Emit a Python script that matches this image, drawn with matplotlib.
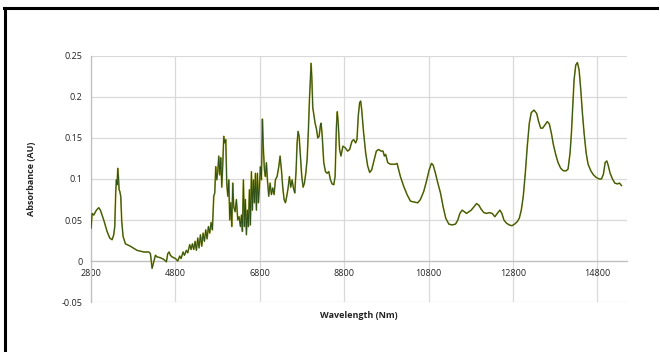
import matplotlib
matplotlib.use('Agg')
import matplotlib.pyplot as plt
from matplotlib.lines import Line2D
from matplotlib.ticker import FuncFormatter

# Spectrum (wavelength, absorbance)
wavelength = [
    2800, 2824, 2863, 2926, 2982, 3021, 3100, 3179, 3242, 3298, 3337, 3361, 3385, 3400,
    3416, 3432, 3448, 3464, 3480, 3503, 3527, 3558, 3614, 3732, 3890, 4048, 4167, 4206,
    4246, 4285, 4325, 4364, 4443, 4522, 4585, 4617, 4649, 4680, 4720, 4799, 4854, 4901,
    4933, 4980, 5012, 5059, 5091, 5138, 5170, 5201, 5233, 5265, 5296, 5328, 5359, 5391,
    5423, 5454, 5486, 5517, 5549, 5580, 5612, 5644, 5675, 5707, 5731, 5754, 5778, 5802,
    5826, 5849, 5873, 5897, 5920, 5944, 5968, 5992, 6015, 6039, 6063, 6086, 6110, 6134,
    6157, 6181, 6213, 6244, 6276, 6307, 6339, 6363, 6386, 6410, 6434, 6457, 6481, 6505,
    6528, 6552, 6576, 6600, 6623, 6647, 6671, 6694, 6718, 6742, 6765, 6789, 6813, 6837,
    6860, 6884, 6908, 6931, 6955, 6979, 7010, 7042, 7074, 7105, 7137, 7168, 7208, 7248,
    7279, 7311, 7342, 7374, 7406, 7437, 7469, 7500, 7532, 7564, 7595, 7627, 7659, 7682,
    7706, 7730, 7761, 7793, 7825, 7856, 7888, 7920, 7951, 7975, 7999, 8014, 8030, 8054,
    8078, 8109, 8141, 8172, 8204, 8236, 8251, 8275, 8314, 8354, 8393, 8433, 8472, 8512,
    8551, 8583, 8614, 8634, 8657, 8689, 8721, 8768, 8824, 8879, 8927, 8982, 9022, 9069,
    9101, 9132, 9164, 9188, 9212, 9259, 9307, 9354, 9402, 9449, 9497, 9560, 9615, 9671,
    9718, 9750, 9781, 9829, 9892, 9956, 10011, 10051, 10090, 10130, 10209, 10288, 10367,
    10446, 10541, 10605, 10684, 10747, 10811, 10866, 10906, 10961, 11017, 11080, 11143,
    11206, 11278, 11357, 11436, 11491, 11539, 11594, 11649, 11697, 11752, 11808, 11871,
    11934, 11990, 12045, 12108, 12172, 12235, 12306, 12369, 12425, 12488, 12535, 12583,
    12646, 12710, 12773, 12836, 12899, 12947, 12995, 13042, 13090, 13137, 13185, 13232,
    13296, 13359, 13406, 13454, 13501, 13557, 13612, 13660, 13707, 13755, 13810, 13866,
    13929, 13993, 14056, 14103, 14151, 14183, 14214, 14246, 14286, 14325, 14365, 14404,
    14444, 14483, 14531, 14578, 14642, 14705, 14768, 14839, 14895, 14942, 14982, 15021,
    15053, 15100, 15156, 15211, 15274, 15322, 15369,
]
absorbance = [
    0.040, 0.058, 0.056, 0.062, 0.065, 0.062, 0.050, 0.036, 0.028, 0.026, 0.032, 0.042, 0.085, 0.099,
    0.093, 0.113, 0.103, 0.087, 0.085, 0.079, 0.048, 0.030, 0.021, 0.018, 0.013, 0.011, 0.011, 0.009,
    -0.009, -0.001, 0.007, 0.005, 0.004, 0.002, -0.001, 0.009, 0.011, 0.007, 0.005, 0.003, 0.000, 0.006,
    0.003, 0.011, 0.007, 0.013, 0.010, 0.020, 0.014, 0.021, 0.014, 0.024, 0.013, 0.028, 0.016, 0.032,
    0.018, 0.034, 0.024, 0.038, 0.027, 0.042, 0.034, 0.047, 0.038, 0.079, 0.083, 0.115, 0.099, 0.109,
    0.128, 0.105, 0.126, 0.090, 0.117, 0.152, 0.144, 0.148, 0.095, 0.079, 0.099, 0.050, 0.071, 0.042,
    0.095, 0.066, 0.060, 0.075, 0.050, 0.054, 0.042, 0.056, 0.036, 0.099, 0.042, 0.075, 0.032, 0.062,
    0.042, 0.087, 0.044, 0.109, 0.062, 0.099, 0.071, 0.107, 0.062, 0.107, 0.071, 0.090, 0.115, 0.099,
    0.173, 0.136, 0.111, 0.103, 0.120, 0.099, 0.079, 0.095, 0.081, 0.089, 0.081, 0.099, 0.103, 0.115,
    0.128, 0.111, 0.090, 0.075, 0.071, 0.079, 0.089, 0.103, 0.090, 0.099, 0.089, 0.083, 0.111, 0.144,
    0.158, 0.152, 0.128, 0.103, 0.090, 0.095, 0.107, 0.124, 0.161, 0.197, 0.225, 0.241, 0.225, 0.187,
    0.179, 0.168, 0.161, 0.150, 0.152, 0.166, 0.168, 0.154, 0.120, 0.109, 0.107, 0.109, 0.099, 0.094,
    0.093, 0.103, 0.164, 0.182, 0.168, 0.136, 0.128, 0.140, 0.138, 0.134, 0.136, 0.146, 0.148, 0.144,
    0.148, 0.177, 0.193, 0.195, 0.185, 0.156, 0.132, 0.116, 0.108, 0.111, 0.121, 0.134, 0.136, 0.134,
    0.134, 0.128, 0.130, 0.120, 0.118, 0.118, 0.118, 0.119, 0.111, 0.103, 0.091, 0.081, 0.073,
    0.072, 0.071, 0.075, 0.085, 0.097, 0.111, 0.119, 0.117, 0.107, 0.095, 0.083, 0.066,
    0.052, 0.045, 0.044, 0.045, 0.050, 0.058, 0.062, 0.060, 0.058, 0.060, 0.062, 0.066,
    0.070, 0.068, 0.063, 0.059, 0.058, 0.059, 0.058, 0.054, 0.058, 0.062, 0.058, 0.050,
    0.046, 0.044, 0.043, 0.045, 0.048, 0.052, 0.062, 0.079, 0.107, 0.140, 0.168, 0.181,
    0.184, 0.180, 0.170, 0.162, 0.162, 0.166, 0.170, 0.167, 0.156, 0.142, 0.130, 0.120,
    0.113, 0.110, 0.110, 0.112, 0.132, 0.156, 0.189, 0.221, 0.239, 0.242, 0.233, 0.209,
    0.180, 0.156, 0.132, 0.118, 0.110, 0.105, 0.102, 0.100, 0.100, 0.106, 0.120, 0.122,
    0.117, 0.107, 0.100, 0.095, 0.094, 0.095, 0.092,
]
x_ticks = [2800, 4800, 6800, 8800, 10800, 12800, 14800]
y_ticks = [-0.05, 0, 0.05, 0.1, 0.15, 0.2, 0.25]

plt.rcParams['font.family'] = ['Open Sans', 'DejaVu Sans']

fig = plt.figure(figsize=(6.6, 3.52), dpi=100)
ax = fig.add_axes([0.138, 0.142, 0.812, 0.699])

# two overlapping traces, olive under dark green
ax.plot(wavelength, absorbance, color='#a3a12a', lw=1.2, zorder=3)
ax.plot(wavelength, absorbance, color='#30521a', lw=0.7, zorder=4)

ax.set_xlim(2800, 15500)
ax.set_ylim(-0.05, 0.25)
ax.set_xticks(x_ticks)
ax.set_yticks(y_ticks)
ax.yaxis.set_major_formatter(FuncFormatter(lambda v, p: '%g' % round(v, 2)))
ax.grid(True, color='#d9d9d9', lw=0.9)
ax.set_axisbelow(True)
ax.tick_params(length=0, labelsize=6.5, colors='#222222', pad=3)

for s in ['top', 'right']:
    ax.spines[s].set_visible(False)
ax.spines['bottom'].set_position(('data', 0))
ax.spines['bottom'].set_color('#bfbfbf')
ax.spines['left'].set_color('#bfbfbf')
ax.spines['bottom'].set_linewidth(0.9)
ax.spines['left'].set_linewidth(0.9)
ax.tick_params(axis='x', pad=6)
ax.tick_params(axis='y', pad=6)

ax.set_xlabel('Wavelength (Nm)', fontsize=6.5, fontweight='bold', color='#222222')
ax.xaxis.set_label_coords(0.5, -0.035)
ax.set_ylabel('Absorbance (AU)', fontsize=6.5, fontweight='bold', color='#222222')
ax.yaxis.set_label_coords(-0.103, 0.5)

# frame lines along top and left of the picture
fig.add_artist(Line2D([0.006, 0.996], [0.977, 0.977], transform=fig.transFigure,
                      color='black', lw=2.2))
fig.add_artist(Line2D([0.008, 0.008], [0.0, 0.977], transform=fig.transFigure,
                      color='black', lw=2.2))

plt.savefig('out.png', dpi=100)
